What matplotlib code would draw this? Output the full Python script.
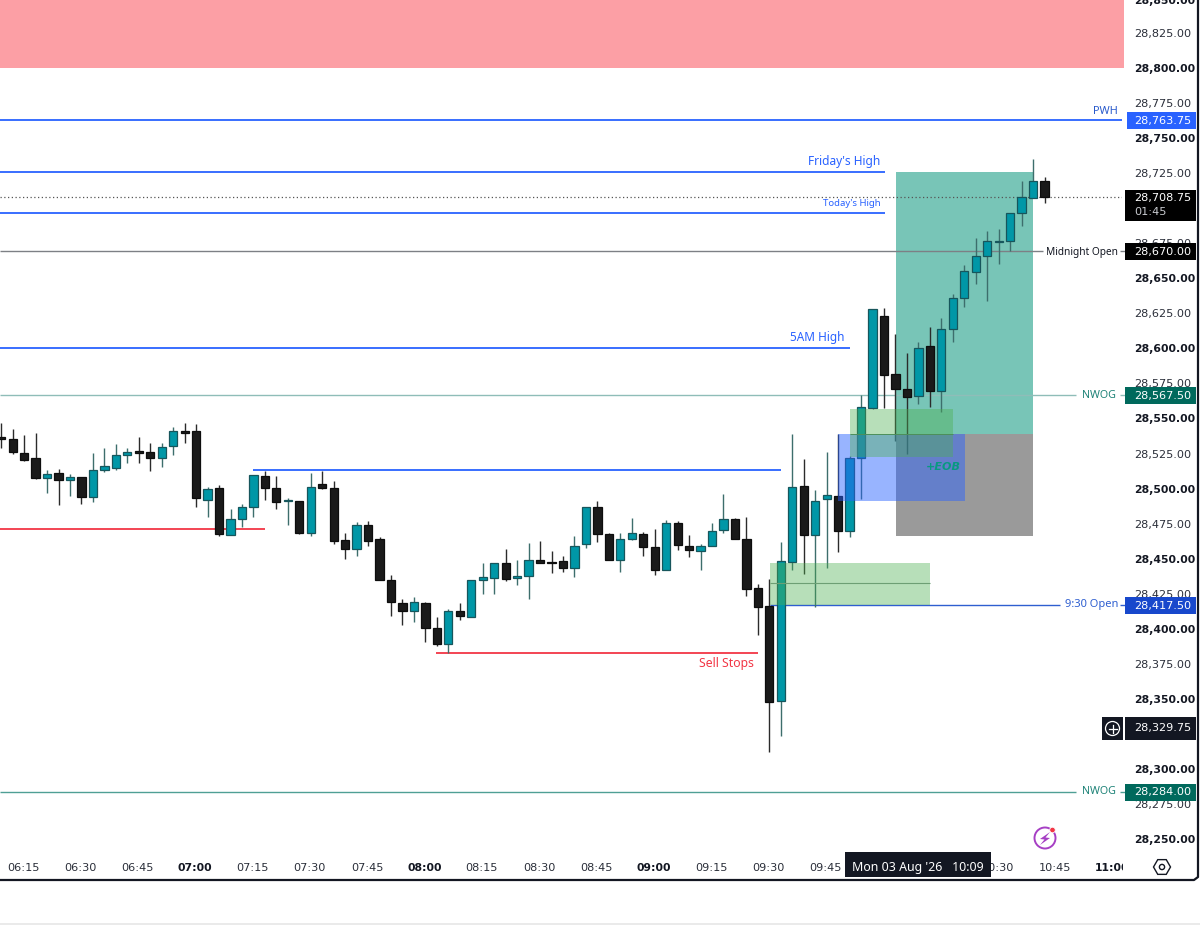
import matplotlib
matplotlib.use("Agg")
import matplotlib.pyplot as plt
import matplotlib.patches as patches
from matplotlib.lines import Line2D
from matplotlib.transforms import ScaledTranslation

plt.rcParams['font.family'] = ['DejaVu Sans']
LABEL_FONT = ['Noto Sans', 'DejaVu Sans']

# 3 minute candles, bar 0 = 06:09
opens = [28537.25, 28535.75, 28526.25, 28522.5, 28508.25, 28511.5, 28507, 28508.75, 28495, 28513.75,
         28515.5, 28525, 28527.5, 28526.75, 28522.75, 28530.75, 28542, 28542, 28492.5, 28501,
         28467.5, 28479, 28487.75, 28509.5, 28501, 28491.75, 28492, 28468.75, 28504, 28501,
         28464, 28457.25, 28474.5, 28464.75, 28435.25, 28418.75, 28413.5, 28419, 28401.25, 28390,
         28413.5, 28409, 28435.25, 28437, 28447.5, 28436.5, 28438.25, 28449.5, 28448.25, 28448.75,
         28443.75, 28460.75, 28487.25, 28468.5, 28449.5, 28464.5, 28468.25, 28459, 28442.25, 28476,
         28459.5, 28456, 28460, 28471.25, 28478.75, 28464.5, 28429.5, 28417, 28348.75, 28448,
         28502.25, 28467.5, 28493.5, 28495.5, 28470.5, 28522.25, 28558.25, 28624.25, 28582.75, 28571.75,
         28567, 28602.25, 28570, 28614.5, 28637, 28655.5, 28666.5, 28677, 28677.25, 28697.25,
         28708.5, 28720.5]
highs = [28547.75, 28543.25, 28539, 28540.25, 28514.25, 28514.75, 28511, 28509, 28526.25, 28530,
         28532.5, 28529.5, 28537.25, 28533, 28533.25, 28544.5, 28547.75, 28546.75, 28501.75, 28503.25,
         28486, 28490, 28510.25, 28513.25, 28510, 28493.75, 28492, 28511.75, 28513.25, 28506,
         28469, 28477, 28477.25, 28466.25, 28438.75, 28421.5, 28423, 28420, 28409, 28414.5,
         28419, 28435.25, 28447.25, 28447.5, 28457.5, 28449.5, 28461.75, 28463.25, 28456.25, 28452.5,
         28466.75, 28487.25, 28491.75, 28469.25, 28469.25, 28479.5, 28469.75, 28472, 28478, 28477.25,
         28467.75, 28460.75, 28475.75, 28496.5, 28480, 28480.5, 28432.5, 28435.75, 28462.75, 28540,
         28522, 28499.5, 28526.75, 28539.5, 28524, 28567.5, 28629, 28629.5, 28611, 28597.5,
         28605.5, 28616.25, 28622.25, 28639.5, 28660, 28679.5, 28684.5, 28686, 28697.25, 28720.25,
         28735.75, 28723]
lows = [28529.5, 28525.25, 28520.25, 28507.75, 28497.75, 28488.75, 28495.25, 28490, 28491.25, 28512.75,
        28514, 28519, 28519, 28513.5, 28516, 28524.75, 28533, 28487.5, 28480.5, 28466.75,
        28467.5, 28473.25, 28480.5, 28492.5, 28486, 28474.75, 28468.5, 28466.75, 28500.5, 28461.25,
        28450.25, 28452.75, 28460, 28435.25, 28410, 28403.5, 28405.25, 28391.25, 28388.25, 28383,
        28406.5, 28409, 28425.25, 28425.25, 28435, 28431.75, 28421.75, 28447.25, 28440.5, 28441.25,
        28437.75, 28458.25, 28462.5, 28449.5, 28441.25, 28463.75, 28452.75, 28438.75, 28442.25, 28457,
        28452, 28442.5, 28459.5, 28468.75, 28464.5, 28424.25, 28396, 28312.75, 28324.25, 28442.5,
        28440, 28416.25, 28443.75, 28455.25, 28466.25, 28493.5, 28557.25, 28558.25, 28535, 28525.5,
        28561, 28558.75, 28555.5, 28605.5, 28630, 28647, 28634.75, 28661, 28670.5, 28688.5,
        28708.5, 28704.5]
closes = [28535.75, 28526.5, 28521, 28508.25, 28511, 28507, 28509, 28495, 28514, 28516.5,
          28525, 28526.75, 28525.75, 28522.75, 28530.25, 28541.75, 28540.5, 28494.25, 28500.5, 28468.25,
          28478.75, 28487.75, 28510.25, 28501, 28491.25, 28492.5, 28469, 28501.75, 28501, 28463.5,
          28457.75, 28475, 28463.5, 28435.25, 28419.5, 28413.5, 28419.5, 28400.75, 28389.5, 28413.5,
          28410, 28435.25, 28437.75, 28447.5, 28436, 28438.5, 28449.5, 28447.5, 28447.5, 28444,
          28460, 28487.25, 28468.5, 28450, 28464.5, 28468.75, 28459, 28442.75, 28476, 28460.25,
          28456.75, 28459.5, 28470.5, 28478.75, 28464.75, 28428.75, 28416.25, 28348.25, 28448.75, 28501.5,
          28467.5, 28492, 28496.25, 28470.5, 28522.5, 28559, 28629, 28582, 28571.75, 28566.25,
          28600.75, 28570.5, 28614.5, 28637, 28655.75, 28666.5, 28677.75, 28677.75, 28697.25, 28708.75,
          28720, 28708.75]

time_bars = list(range(2, 98, 5))
# 10:00 and 10:15 sit behind the date box
time_labels = ['06:15', '06:30', '06:45', '07:00', '07:15', '07:30', '07:45', '08:00', '08:15', '08:30',
               '08:45', '09:00', '09:15', '09:30', '09:45', '', '', '10:30', '10:45', '11:00']
bold_times = ['07:00', '08:00', '09:00', '11:00']
price_ticks = list(range(28250, 28850, 25))
# these two are fully behind a price box
hidden_prices = [28325, 28700]

pwh = 28763.75
fridays_high = 28726.75
todays_high = 28697.5
last_price = 28708.75
midnight_open = 28670.00
five_am_high = 28601.0
nwog_upper = 28567.50
swing_high = 28514.0
swing_low = 28471.5
sell_stops = 28383.25
open_930 = 28417.50
nwog_lower = 28284.00
cursor_price = 28329.75

red_zone = [28801.0, 28860.0]
long_target = [28539.5, 28726.75]
long_stop = [28466.75, 28539.5]
eob_zone = [28491.5, 28539.5]
upper_fvg = [28523.0, 28557.25]
upper_fvg_mid = 28540.0
lower_fvg = [28417.5, 28447.5]
lower_fvg_mid = 28433.0

BLUE = '#2962ff'
RED = '#f23645'
TEAL_BAR = '#0097a7'
DARK = '#131722'
NWOG_DARK = '#00695c'
NUM_SIZE = 8.1


def ix(px):
    # picture x to bar index
    return (px - 1.2) / 11.465


def nudge(dx, dy):
    # shift in picture pixels, up is positive
    return ScaledTranslation(dx / 100, dy / 100, fig.dpi_scale_trans)


fig = plt.figure(figsize=(12, 9.25), dpi=100, facecolor='white')
ax = fig.add_axes([0, 72 / 925, 1122 / 1200, 853 / 925])
ax.set_xlim(ix(0), ix(1122))
ax.set_ylim(28240.36, 28849.64)
for s in ax.spines.values():
    s.set_visible(False)

# zones under the candles
ax.fill_between([ix(0), ix(1124)], red_zone[0], red_zone[1], color='#fc9fa5', lw=0, zorder=1, clip_on=False)
ax.fill_between([ix(896), ix(1033)], long_target[0], long_target[1], color='#78c5b7', lw=0, zorder=1)
ax.fill_between([ix(896), ix(1033)], long_stop[0], long_stop[1], color='#9a9a9a', lw=0, zorder=1)

# level lines
ax.hlines(pwh, ix(0), ix(1122), color=BLUE, lw=1.3, zorder=2)
ax.hlines(fridays_high, ix(0), ix(885), color=BLUE, lw=1.3, zorder=2)
ax.hlines(todays_high, ix(0), ix(885), color=BLUE, lw=1.3, zorder=2)
ax.hlines(last_price, ix(0), ix(1122), color='#555555', lw=0.9, linestyles=(0, (1, 2)), zorder=2)
ax.hlines(midnight_open, ix(0), ix(1043), color='#7d8085', lw=1, zorder=2)
ax.hlines(five_am_high, ix(0), ix(850), color=BLUE, lw=1.3, zorder=2)
ax.hlines(nwog_upper, ix(0), ix(1076), color='#8fbdb8', lw=1, zorder=2)
ax.hlines(nwog_lower, ix(0), ix(1076), color='#4f9f95', lw=1, zorder=2)
ax.hlines(swing_high, ix(253), ix(781), color=BLUE, lw=1.3, zorder=2)
ax.hlines(swing_low, ix(0), ix(265), color=RED, lw=1.3, zorder=2)
ax.hlines(sell_stops, ix(436), ix(758), color=RED, lw=1.3, zorder=2)
ax.hlines(open_930, ix(770), ix(1060), color='#2f5fd0', lw=1, zorder=2)
# short stubs between the line labels and their price boxes
for level, col in [(midnight_open, '#7d8085'), (nwog_upper, '#8fbdb8'), (nwog_lower, '#4f9f95'), (open_930, '#2f5fd0')]:
    ax.hlines(level, ix(1120), ix(1125), color=col, lw=1, zorder=2, clip_on=False)

# candles
bars = list(range(len(opens)))
for i in bars:
    up = closes[i] >= opens[i]
    wick = '#3d6e6c' if up else '#2b2b2b'
    ax.vlines(i, lows[i], highs[i], color=wick, lw=1, zorder=3)
ups = [i for i in bars if closes[i] >= opens[i]]
downs = [i for i in bars if closes[i] < opens[i]]
ax.bar(ups, [closes[i] - opens[i] for i in ups], bottom=[opens[i] for i in ups], width=0.72,
       color=TEAL_BAR, edgecolor='#17565c', lw=0.9, zorder=3.2)
ax.bar(downs, [opens[i] - closes[i] for i in downs], bottom=[closes[i] for i in downs], width=0.72,
       color='#1a1a1a', edgecolor='#0d0d0d', lw=0.9, zorder=3.2)

# zones over the candles
ax.fill_between([ix(838), ix(965)], eob_zone[0], eob_zone[1], color=BLUE, alpha=0.48, lw=0, zorder=4)
ax.fill_between([ix(850), ix(953)], upper_fvg[0], upper_fvg[1], color='#4caf50', alpha=0.4, lw=0, zorder=4.1)
ax.hlines(upper_fvg_mid, ix(850), ix(953), color='#4d8f5a', lw=0.7, zorder=4.2)
ax.fill_between([ix(770), ix(930)], lower_fvg[0], lower_fvg[1], color='#4caf50', alpha=0.4, lw=0, zorder=4.1)
ax.hlines(lower_fvg_mid, ix(770), ix(930), color='#6d9f74', lw=0.8, zorder=4.2)

# axes
ax.yaxis.tick_right()
ax.set_yticks(price_ticks)
ax.set_yticklabels(['' if p in hidden_prices else f'{p:,.2f}' for p in price_ticks])
ax.tick_params(axis='y', length=0, pad=8.5, labelsize=NUM_SIZE, labelcolor='#2a2e39')
for lab, p in zip(ax.get_yticklabels(), price_ticks):
    lab.set_transform(lab.get_transform() + nudge(0, 1))
    if p % 50 == 0:
        lab.set_fontweight('bold')
        lab.set_fontsize(NUM_SIZE - 0.3)
        lab.set_color(DARK)
ax.set_xticks(time_bars)
ax.set_xticklabels(time_labels)
ax.tick_params(axis='x', length=0, pad=7.5, labelsize=NUM_SIZE, labelcolor='#2a2e39')
for lab in ax.get_xticklabels():
    lab.set_transform(lab.get_transform() + nudge(-1, 0))
    if lab.get_text() in bold_times:
        lab.set_fontweight('bold')
        lab.set_fontsize(NUM_SIZE - 0.3)
        lab.set_color(DARK)
ax.text(1134 / 1122, 28849.0, '28,850.00', transform=ax.get_yaxis_transform(), fontsize=NUM_SIZE - 0.3,
        color=DARK, fontweight='bold', ha='left', va='center', clip_on=False)


def price_tag(price, color, top=8.5, bottom=8.5, left=1125):
    # coloured box on the price axis, sizes in picture pixels
    h = (top + bottom) / 1.4
    y0 = price - bottom / 1.4 - 0.3
    box = patches.Rectangle((left / 1122, y0), (1196 - left) / 1122, h, transform=ax.get_yaxis_transform(),
                            facecolor=color, edgecolor='none', clip_on=False, zorder=10)
    ax.add_patch(box)
    ax.text(1134 / 1122, price - 0.4, f'{price:,.2f}', transform=ax.get_yaxis_transform(), color='white',
            fontsize=NUM_SIZE, ha='left', va='center', clip_on=False, zorder=11)


price_tag(pwh, BLUE, left=1127)
price_tag(last_price, '#000000', top=7.5, bottom=23.5)
price_tag(midnight_open, '#000000')
price_tag(nwog_upper, NWOG_DARK)
price_tag(open_930, '#1848cc')
price_tag(cursor_price, DARK, top=11, bottom=11.5)
price_tag(nwog_lower, NWOG_DARK)

# everything else in picture pixels
ov = fig.add_axes([0, 0, 1, 1], zorder=5)
ov.set_xlim(0, 1200)
ov.set_ylim(925, 0)
ov.axis('off')
ov.patch.set_alpha(0)


def label(x, y, s, color, size, ha='right', family=LABEL_FONT, **kw):
    ov.text(x, y, s, color=color, fontsize=size, ha=ha, va='center', family=family, **kw)


label(1118, 112, 'PWH', '#2a5bcc', 7.9)
label(880, 161, "Friday's High", BLUE, 8.6)
label(881, 204, "Today's High", BLUE, 6.9)
label(845, 337, '5AM High', BLUE, 8.5)
label(1118, 252, 'Midnight Open', DARK, 7.3)
label(1116, 396, 'NWOG', '#1f8378', 7.7)
label(1116, 792, 'NWOG', '#1f8378', 7.7)
label(1118, 605, '9:30 Open', '#2f5fd0', 8)
label(754, 664, 'Sell Stops', RED, 8.8)
label(961, 467, '+EOB', '#089981', 8, family='DejaVu Sans', fontstyle='italic', fontweight='bold')
label(1134, 212, '01:45', '#c9cbd0', NUM_SIZE, ha='left', family='DejaVu Sans')

# plus button
ov.add_patch(patches.Rectangle((1102, 717), 21, 23, facecolor=DARK, edgecolor='none'))
ov.add_patch(patches.Circle((1112.5, 728.5), 7, facecolor='none', edgecolor='white', lw=0.9))
ov.plot([1108.5, 1116.5], [728.5, 728.5], color='white', lw=0.9)
ov.plot([1112.5, 1112.5], [724.5, 732.5], color='white', lw=0.9)

# date box
ov.add_patch(patches.Rectangle((845, 852), 146, 25, facecolor=DARK, edgecolor='none'))
label(918, 867.5, "Mon 03 Aug '26   10:09", 'white', 8.9, ha='center')
# cut the 11:00 label where the time scale stops
ov.add_patch(patches.Rectangle((1123, 855), 22, 23, facecolor='white', edgecolor='none'))

# settings hexagon
ov.add_patch(patches.RegularPolygon((1162, 867), 6, radius=8.5, orientation=0.5236, facecolor='none',
                                    edgecolor=DARK, lw=1))
ov.add_patch(patches.Circle((1162, 867), 2.6, facecolor='none', edgecolor=DARK, lw=1))

# lightning badge
ov.add_patch(patches.Circle((1045, 838), 10.5, facecolor='white', edgecolor='#a63fc4', lw=1.4))
ov.add_patch(patches.Polygon([(1050, 832), (1040, 839), (1044.5, 839.5), (1040, 845), (1050, 838), (1045.5, 837.5)],
                             facecolor='#a63fc4', edgecolor='none'))
ov.add_patch(patches.Circle((1052.5, 830), 2.8, facecolor='#f23645', edgecolor='white', lw=0.6))

# frame
ov.add_line(Line2D([0, 1194, 1198, 1198], [880, 880, 877, 0], color='#131722', lw=1.6))
ov.add_line(Line2D([0, 1200], [923.5, 923.5], color='#e6e6e6', lw=1.2))

plt.savefig('out.png', dpi=100)
